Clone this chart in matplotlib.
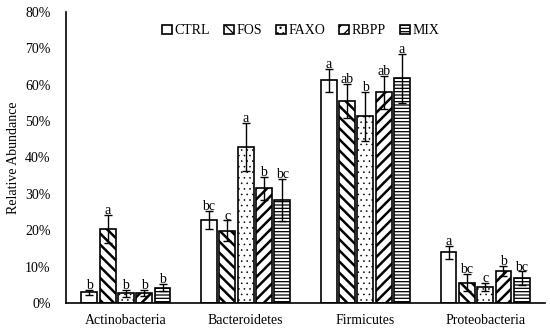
import matplotlib
matplotlib.use("Agg")
import matplotlib.pyplot as plt
import numpy as np

plt.rcParams['font.family'] = ['Liberation Serif', 'DejaVu Serif']

categories = ["Actinobacteria", "Bacteroidetes", "Firmicutes", "Proteobacteria"]
series = ["CTRL", "FOS", "FAXO", "RBPP", "MIX"]

ctrl = [2.9, 22.8, 61.2, 14.0]
fos = [20.4, 19.9, 55.6, 5.6]
faxo = [2.7, 42.9, 51.3, 4.4]
rbpp = [2.8, 31.5, 57.9, 8.8]
mix = [4.2, 28.4, 61.7, 6.8]

ctrl_err = [0.6, 2.6, 3.1, 1.8]
fos_err = [3.9, 2.8, 4.7, 2.3]
faxo_err = [1.0, 6.6, 6.8, 1.1]
rbpp_err = [0.8, 3.1, 4.5, 1.5]
mix_err = [1.0, 5.8, 6.8, 1.9]

ctrl_lbl = ["b", "bc", "a", "a"]
fos_lbl = ["a", "c", "ab", "bc"]
faxo_lbl = ["b", "a", "b", "c"]
rbpp_lbl = ["b", "b", "ab", "b"]
mix_lbl = ["b", "bc", "a", "bc"]

values = [ctrl, fos, faxo, rbpp, mix]
errors = [ctrl_err, fos_err, faxo_err, rbpp_err, mix_err]
labels = [ctrl_lbl, fos_lbl, faxo_lbl, rbpp_lbl, mix_lbl]
hatches = ["", "\\\\\\", "...", "///", "-----"]
hatch_lw = [1.0, 1.8, 0.4, 1.8, 0.9]

fig = plt.figure(figsize=(5.5, 3.29), dpi=100)
ax = fig.add_axes([0.12, 0.079, 0.871, 0.885])

x = np.arange(len(categories))
pitch = 0.153
width = 0.133
for i, (vals, errs, lbls, h, name, hl) in enumerate(zip(values, errors, labels, hatches, series, hatch_lw)):
    pos = x + (i - 2) * pitch
    plt.rcParams['hatch.linewidth'] = hl
    bars = ax.bar(pos, vals, width, color="white", edgecolor="black", linewidth=1.2,
                  hatch=h, label=name, zorder=2)
    for b in bars:
        if hasattr(b, "set_hatch_linewidth"):
            b.set_hatch_linewidth(hl)
    ax.errorbar(pos, vals, yerr=errs, fmt="none", ecolor="black", elinewidth=1.0,
                capsize=3, capthick=1.0, zorder=3)
    for p, v, e, l in zip(pos, vals, errs, lbls):
        ax.text(p, v + e - 0.6, l, ha="center", va="bottom", fontsize=10, zorder=4)

ax.set_xlim(-0.5, 3.5)
ax.set_ylim(0, 80)
ax.set_yticks(np.arange(0, 81, 10))
ax.set_yticklabels([f"{v}%" for v in range(0, 81, 10)], fontsize=10)
ax.set_xticks(x)
ax.set_xticklabels(categories, fontsize=10)
ax.tick_params(axis="both", length=0, pad=8)
ax.tick_params(axis="y", pad=11)
for s in ["top", "right"]:
    ax.spines[s].set_visible(False)
ax.spines["left"].set_linewidth(1.2)
ax.spines["bottom"].set_linewidth(1.2)
ax.set_ylabel("Relative Abundance", fontsize=10)

leg = ax.legend(loc="upper center", bbox_to_anchor=(0.49, 1.0), ncol=5, frameon=False,
                fontsize=10, handlelength=0.7, handleheight=0.7, handletextpad=0.2,
                columnspacing=1.0)

fig.savefig("out.png", dpi=100)
